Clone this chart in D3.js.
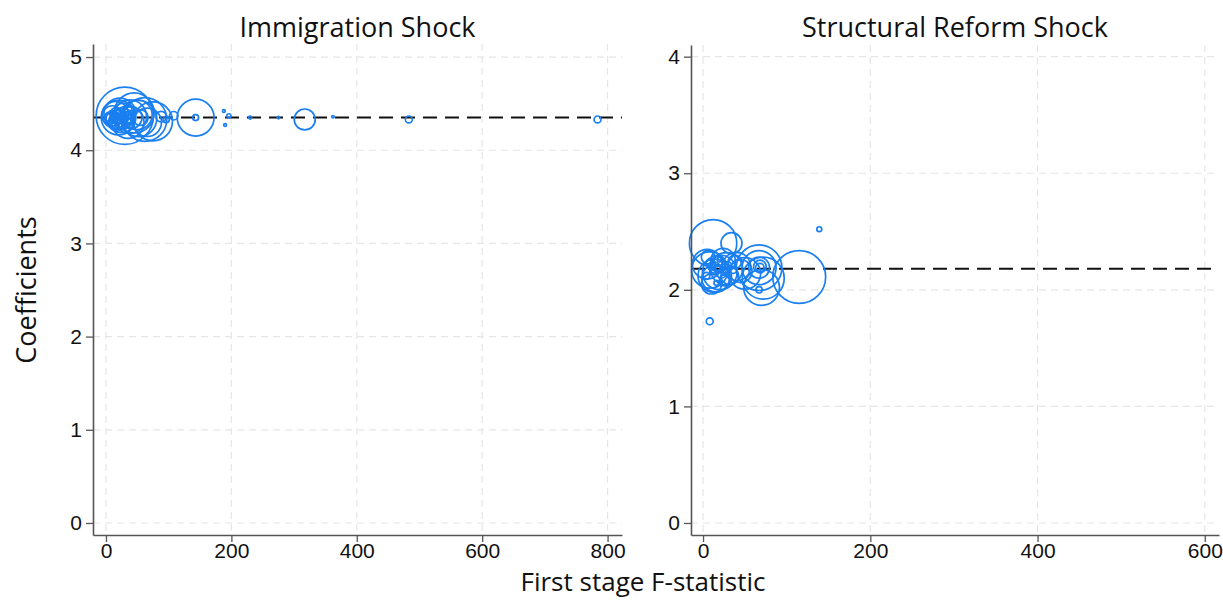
<!DOCTYPE html>
<html>
<head>
<meta charset="utf-8">
<script src="https://cdn.jsdelivr.net/npm/d3@7"></script>
<style>
  body { margin: 0; background: #fff; }
  svg { font-family: "Open Sans", "Noto Sans", sans-serif; }
</style>
</head>
<body>
<svg id="chart" width="1223" height="600"></svg>
<script>
// Immigration shock: first-stage F, coefficient, weight
var immF = [30, 62, 75, 45, 20, 35, 50, 15, 25, 40, 10, 18, 28, 55, 12, 22, 33, 8, 16, 26, 38, 5,
            20, 14, 24, 30, 9, 19, 27, 36, 42, 11, 88, 96, 108, 143, 143, 188, 190, 196, 230, 275,
            317, 362, 483, 784, 52, 22, 38, 66, 18, 28, 34, 24, 14];
var immCoef = [4.37, 4.33, 4.31, 4.40, 4.35, 4.30, 4.38, 4.38, 4.32, 4.35, 4.37, 4.30, 4.41, 4.35, 4.33, 4.36, 4.34, 4.35, 4.40, 4.29, 4.38, 4.36,
               4.33, 4.36, 4.38, 4.34, 4.40, 4.31, 4.36, 4.32, 4.40, 4.34, 4.36, 4.33, 4.37, 4.35, 4.35, 4.42, 4.27, 4.37, 4.35, 4.35,
               4.33, 4.36, 4.33, 4.33, 4.34, 4.39, 4.36, 4.30, 4.34, 4.37, 4.33, 4.35, 4.32];
var immW = [820, 480, 380, 400, 300, 260, 220, 180, 150, 120, 100, 80, 80, 60, 60, 45, 45, 30, 30, 30, 20, 20,
            12, 12, 12, 12, 6, 6, 6, 6, 6, 6, 28, 10, 18, 340, 9, 2, 2, 4, 2, 1,
            110, 1, 12, 12, 330, 250, 280, 200, 16, 16, 22, 10, 8];
var immRef = 4.35;

// Structural reform shock
var refF = [12, 34, 8, 20, 5, 28, 40, 15, 24, 45, 10, 32, 18, 6, 38, 26, 14, 22, 9, 30, 12, 36, 4, 20, 16,
            67, 67, 67, 68, 68, 70, 72, 67, 115, 139, 8, 50, 14, 10, 26, 18];
var refCoef = [2.40, 2.40, 2.17, 2.15, 2.22, 2.18, 2.20, 2.10, 2.25, 2.16, 2.05, 2.12, 2.22, 2.28, 2.24, 2.08, 2.19, 2.14, 2.23, 2.21, 2.16, 2.17, 2.12, 2.26, 2.06,
               2.19, 2.19, 2.19, 2.20, 2.19, 2.02, 2.10, 2.00, 2.11, 2.52, 1.73, 2.14, 2.12, 2.20, 2.16, 2.18];
var refW = [560, 110, 330, 300, 220, 260, 200, 190, 150, 130, 100, 80, 60, 45, 45, 30, 30, 20, 20, 12, 12, 12, 12, 6, 6,
            520, 290, 110, 40, 18, 320, 440, 10, 700, 6, 12, 250, 280, 14, 16, 10];
var refRef = 2.18;

var immXTicks = [0, 200, 400, 600, 800];
var immYTicks = [0, 1, 2, 3, 4, 5];
var refXTicks = [0, 200, 400, 600];
var refYTicks = [0, 1, 2, 3, 4];

var blue = "#1a7ff0";
var svg = d3.select("#chart");
var rScale = d3.scaleSqrt().domain([0, 900]).range([0, 30]);

var panels = [
  {title: "Immigration Shock", F: immF, coef: immCoef, w: immW, ref: immRef,
   xTicks: immXTicks, yTicks: immYTicks, xDom: [-20.7, 823], yDom: [-0.129, 5.14],
   left: 93, right: 622, top: 44, bottom: 535},
  {title: "Structural Reform Shock", F: refF, coef: refCoef, w: refW, ref: refRef,
   xTicks: refXTicks, yTicks: refYTicks, xDom: [-14.4, 617], yDom: [-0.103, 4.1],
   left: 691, right: 1219, top: 45, bottom: 535}
];

panels.forEach(function(p) {
  var x = d3.scaleLinear().domain(p.xDom).range([p.left, p.right]);
  var y = d3.scaleLinear().domain(p.yDom).range([p.bottom, p.top]);
  var g = svg.append("g");

  // grid
  g.append("g").selectAll("line").data(p.xTicks).enter().append("line")
    .attr("x1", function(d) { return x(d); }).attr("x2", function(d) { return x(d); })
    .attr("y1", p.top).attr("y2", p.bottom)
    .attr("stroke", "#e6e6e6").attr("stroke-width", 1.2).attr("stroke-dasharray", "7,5");
  g.append("g").selectAll("line").data(p.yTicks).enter().append("line")
    .attr("x1", p.left).attr("x2", p.right)
    .attr("y1", function(d) { return y(d); }).attr("y2", function(d) { return y(d); })
    .attr("stroke", "#e6e6e6").attr("stroke-width", 1.2).attr("stroke-dasharray", "7,5");

  // reference line
  g.append("line")
    .attr("x1", p.left).attr("x2", p.right)
    .attr("y1", y(p.ref)).attr("y2", y(p.ref))
    .attr("stroke", "#111").attr("stroke-width", 2).attr("stroke-dasharray", "14,8");

  // bubbles
  var idx = d3.range(p.F.length).sort(function(a, b) { return p.w[b] - p.w[a]; });
  g.append("g").selectAll("circle").data(idx).enter().append("circle")
    .attr("cx", function(i) { return x(p.F[i]); })
    .attr("cy", function(i) { return y(p.coef[i]); })
    .attr("r", function(i) { return Math.max(rScale(p.w[i]), 1.2); })
    .attr("fill", "none").attr("stroke", blue).attr("stroke-width", 1.7);

  // axes
  var xAxis = g.append("g").attr("transform", "translate(0," + p.bottom + ")")
    .call(d3.axisBottom(x).tickValues(p.xTicks).tickFormat(d3.format("d")).tickSize(7).tickSizeOuter(0).tickPadding(1));
  var yAxis = g.append("g").attr("transform", "translate(" + p.left + ",0)")
    .call(d3.axisLeft(y).tickValues(p.yTicks).tickFormat(d3.format("d")).tickSize(7).tickSizeOuter(0).tickPadding(4));
  [xAxis, yAxis].forEach(function(a) {
    a.select(".domain").attr("stroke", "#555").attr("stroke-width", 1.6);
    a.selectAll(".tick line").attr("stroke", "#555").attr("stroke-width", 1.3);
    a.selectAll(".tick text").attr("fill", "#111").style("font-size", "21px");
  });

  g.append("text")
    .attr("x", (p.left + p.right) / 2).attr("y", 37)
    .attr("text-anchor", "middle").style("font-size", "27px").attr("fill", "#111")
    .text(p.title);
});

svg.append("text")
  .attr("transform", "translate(36,290) rotate(-90)")
  .attr("text-anchor", "middle").style("font-size", "27px").attr("fill", "#111")
  .text("Coefficients");

svg.append("text")
  .attr("x", 643).attr("y", 591)
  .attr("text-anchor", "middle").style("font-size", "26px").attr("fill", "#111")
  .text("First stage F-statistic");
</script>
</body>
</html>
